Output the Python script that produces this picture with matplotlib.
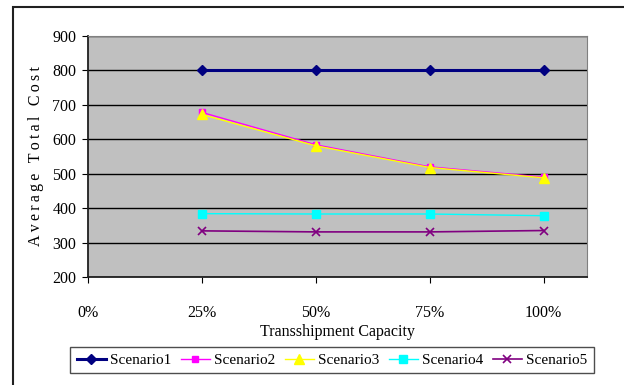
import matplotlib
matplotlib.use("Agg")
import matplotlib.pyplot as plt
from matplotlib.patches import Rectangle

# data
capacity = [0.25, 0.50, 0.75, 1.00]
tick_pos = [0, 0.25, 0.50, 0.75, 1.00]
tick_labels = ['0%', '25%', '50%', '75%', '100%']
scenario1 = [801, 801, 801, 801]
scenario2 = [678, 584, 520, 490]
scenario3 = [672, 581, 518, 488]
scenario4 = [384, 383, 383, 378]
scenario5 = [334, 331, 331, 335]

plt.rcParams['font.family'] = ['Liberation Serif', 'DejaVu Serif']

fig = plt.figure(figsize=(6.24, 3.85), dpi=100)
W, H = 624.0, 385.0
# plot area in pixels: left 88, top 36, right 587, bottom 277
ax = fig.add_axes([88 / W, 1 - 277 / H, (587 - 88) / W, (277 - 36) / H])
ax.set_facecolor('#c0c0c0')

ax.set_ylim(200, 900)
ax.set_yticks(range(200, 901, 100))
ax.set_xlim(0, 1.095)
ax.set_xticks(tick_pos)
ax.set_xticklabels(tick_labels)
ax.yaxis.grid(True, color='black', linewidth=1)
ax.set_axisbelow(True)

ax.plot(capacity, scenario1, color='#000080', marker='D', markersize=5, linewidth=2.2, label='Scenario1')
ax.plot(capacity, scenario2, color='#ff00ff', marker='s', markersize=4, linewidth=1, label='Scenario2')
ax.plot(capacity, scenario3, color='#ffff00', marker='^', markersize=7, linewidth=1, label='Scenario3')
ax.plot(capacity, scenario4, color='#00ffff', marker='s', markersize=6, linewidth=1, label='Scenario4')
ax.plot(capacity, scenario5, color='#800080', marker='x', markersize=6, markeredgewidth=1.2,
        linewidth=1.2, label='Scenario5')

for s in ['top', 'right']:
    ax.spines[s].set_color('#808080')
for s in ['left', 'bottom']:
    ax.spines[s].set_color('#202020')
    ax.spines[s].set_linewidth(1.3)

ax.tick_params(axis='y', direction='out', length=4.3, labelsize=11.5, pad=4)
ax.tick_params(axis='x', direction='out', length=4.3, labelsize=11.5, pad=16)

ax.set_xlabel('Transshipment Capacity', fontsize=11.5, labelpad=2)
# wide letter spacing like the original (thin spaces between letters)
ylab = '\u2009 \u2009'.join('\u2009'.join(w) for w in ['Average', 'Total', 'Cost'])
ax.set_ylabel(ylab, fontsize=11.5, labelpad=6)

leg = fig.legend(loc='center', bbox_to_anchor=(332 / W, 1 - 360 / H), ncol=5, fontsize=11,
                 frameon=True, fancybox=False, edgecolor='#202020', handlelength=1.9,
                 handletextpad=0.3, columnspacing=0.6, borderpad=0.4)
leg.get_frame().set_linewidth(1)

# outer chart border
fig.patches.append(Rectangle((13 / W, -0.1), 1.2, 1 - 7 / H + 0.1, transform=fig.transFigure,
                             fill=False, edgecolor='#202020', linewidth=1.5, clip_on=False))

fig.savefig('out.png', dpi=100)
